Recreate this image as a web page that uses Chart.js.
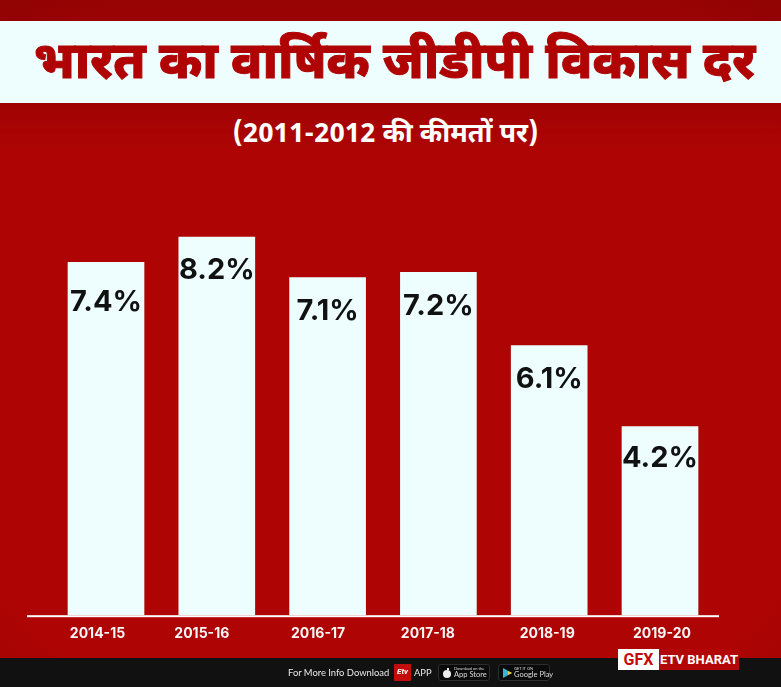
<!DOCTYPE html>
<html lang="hi">
<head>
<meta charset="utf-8">
<title>भारत का वार्षिक जीडीपी विकास दर</title>
<script src="https://cdn.jsdelivr.net/npm/chart.js@4/dist/chart.umd.min.js"></script>
<style>
  html,body{margin:0;padding:0;background:#111}
  #page{position:relative;width:781px;height:687px;overflow:hidden;font-family:"Noto Sans Devanagari","Noto Sans","Lohit Devanagari",sans-serif;
    background:
      radial-gradient(ellipse 85% 85% at 50% 50%, rgba(70,0,0,0) 72%, rgba(60,0,0,.22) 100%),
      linear-gradient(#980303 0, #a00303 103px, #ae0404 150px, #ae0404 100%)}
  #band{position:absolute;left:0;top:21px;width:781px;height:82px;background:#eefeff}
  #title{position:absolute;left:4px;top:25px;width:781px;height:82px;line-height:82px;text-align:center;color:#b00404;font-size:51px;font-weight:800;white-space:nowrap;-webkit-text-stroke:1px #b00404}
  #sub{position:absolute;left:0;top:117px;width:771px;text-align:center;color:#fff;font-size:27px;font-weight:700;line-height:38px;white-space:nowrap}
  #foot{position:absolute;left:0;top:658px;width:781px;height:29px;background:#111}
  canvas{position:absolute;left:0;top:0}
  .ft{position:absolute;color:#e8e8e8;font:9.4px/12px Lato,sans-serif;white-space:nowrap}
  .badge{position:absolute;top:664px;height:17px;box-sizing:border-box;border:1px solid #2c2c2c;border-radius:3px;background:#0a0a0a;color:#ddd;font:7.5px/8px Lato,sans-serif;white-space:nowrap}
  .badge small{display:block;font-size:4px;line-height:5px;margin-top:1px}
  #gfx{position:absolute;left:618px;top:649px;width:41px;height:21px;background:#fff;color:#c40a0a;font:700 16px/21px Roboto,sans-serif;text-align:center}
  #etv{position:absolute;left:659px;top:649px;width:80px;height:21px;background:#b30606;color:#fff;font:700 13px/21px Roboto,sans-serif;text-align:center;white-space:nowrap}
  #logo{position:absolute;left:394px;top:664px;width:17px;height:17px;background:#c30d0d;border-radius:1px;color:#fff;font:italic 700 8px/15px Roboto,sans-serif;text-align:center}
</style>
</head>
<body>
<div id="page">
  <div id="band"></div>
  <div id="title">भारत का वार्षिक जीडीपी विकास दर</div>
  <div id="sub">(2011-2012 की कीमतों पर)</div>
  <div id="foot"></div>
  <canvas id="chart" width="781" height="687"></canvas>
  <div class="ft" style="left:288px;top:667px">For More Info Download</div>
  <div id="logo">Etv</div>
  <div class="ft" style="left:414px;top:667px">APP</div>
  <div class="badge" style="left:438px;width:52px;padding-left:15px"><small>Download on the</small>App Store
    <svg width="8" height="10" style="position:absolute;left:4px;top:3px"><ellipse cx="4" cy="6" rx="4" ry="4" fill="#eee"/><rect x="4" y="0" width="2" height="2" fill="#eee"/></svg>
  </div>
  <div class="badge" style="left:498px;width:52px;padding-left:15px"><small>GET IT ON</small>Google Play
    <svg width="9" height="10" style="position:absolute;left:4px;top:3px"><polygon points="0,0 9,5 0,10" fill="#35b6d8"/><polygon points="5,3 9,5 5,7" fill="#f4c430"/></svg>
  </div>
  <div id="gfx">GFX</div>
  <div id="etv">ETV BHARAT</div>
</div>
<script>
// fiscal years and the growth figures printed on the bars
const years = ['2014-15', '2015-16', '2016-17', '2017-18', '2018-19', '2019-20'];
const printedGrowth = [7.4, 8.2, 7.1, 7.2, 6.1, 4.2];
// the artwork isn't drawn to scale, these are the bar heights as they read off the picture
const drawnLevels = [7.41, 7.94, 7.09, 7.2, 5.66, 3.96];
const white = '#eefeff';

// tick labels sit a bit left of the bars in the original
const tickNudge = [-8.5, -15, -9.5, -10.5, -2, 2];
const labelDrop = [40, 33, 34, 34, 34, 32];

const artwork = {
  id: 'artwork',
  afterLayout(chart) {
    chart.scales.x.getLabelItems().forEach((it, i) => { it.options.translation[0] += tickNudge[i]; });
  },
  afterDraw(chart) {
    const { ctx, chartArea } = chart;
    ctx.save();
    // baseline runs wider than the plot
    ctx.fillStyle = '#fff';
    ctx.fillRect(27, chartArea.bottom, 692, 2);
    ctx.fillStyle = '#111';
    ctx.font = "700 29px Inter, sans-serif";
    ctx.textAlign = 'center';
    ctx.textBaseline = 'middle';
    chart.getDatasetMeta(0).data.forEach((bar, i) => {
      ctx.fillText(printedGrowth[i].toFixed(1) + '%', bar.x, bar.y + labelDrop[i]);
    });
    ctx.restore();
  }
};

new Chart(document.getElementById('chart').getContext('2d'), {
  type: 'bar',
  data: {
    labels: years,
    datasets: [{ label: 'जीडीपी विकास दर', data: drawnLevels, backgroundColor: white, barThickness: 76 }]
  },
  options: {
    responsive: false,
    animation: false,
    layout: { padding: { left: 50.6, right: 65.6, top: 139, bottom: 43 } },
    plugins: { legend: { display: false }, tooltip: { enabled: false } },
    scales: {
      y: { display: false, min: 0, max: 10 },
      x: {
        grid: { display: false },
        border: { display: false },
        ticks: { color: '#f6f6f6', font: { family: 'Inter, sans-serif', size: 14, weight: '700' }, padding: 2, maxRotation: 0, autoSkip: false }
      }
    }
  },
  plugins: [artwork]
});
</script>
</body>
</html>
